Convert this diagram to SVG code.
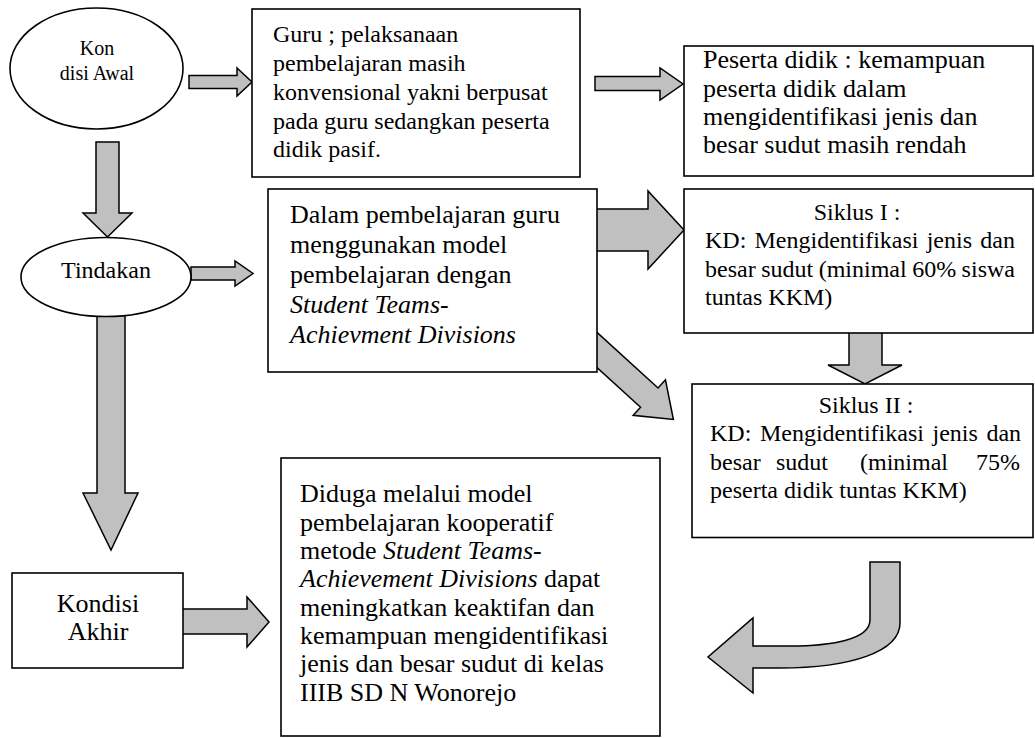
<svg xmlns="http://www.w3.org/2000/svg" width="1035" height="738" viewBox="0 0 1035 738">
<style>
.box{fill:#fff;stroke:#000;stroke-width:1.6}
.arr{fill:#c0c0c0;stroke:#000;stroke-width:1.5;stroke-linejoin:miter}
text{font-family:'Liberation Serif','Times New Roman',Times,serif;fill:#000}
.f20{font-size:20px}
.f24{font-size:24px}
.f26{font-size:26px}
.i{font-style:italic}
.m{text-anchor:middle}
</style>
<rect width="1035" height="738" fill="#fff"/>
<g id="connectors">
  <polygon class="arr" points="189,75.5 237,75.5 237,68 252,82 237,96 237,88.5 189,88.5"/>
  <polygon class="arr" points="595,76.5 660,76.5 660,68 683,84 660,100 660,90.5 595,90.5"/>
  <polygon class="arr" points="96,142 119,142 119,213 132,213 107.5,237 83,213 96,213"/>
  <polygon class="arr" points="191,267 235,267 235,261 253,273.5 235,286 235,280 191,280"/>
  <polygon class="arr" points="590,209 648,209 648,191 684,230 648,269 648,251 590,251"/>
  <polygon class="arr" points="849,325 882,325 882,365 902,365 865,384 828,365 849,365"/>
  <polygon class="arr" transform="translate(597,350) rotate(42.3)" points="-20,-13 70.7,-13 70.7,-24 103.3,0 70.7,24 70.7,13 -20,13"/>
  <polygon class="arr" points="97,305 125,305 125,493 138,493 111,550 83,493 97,493"/>
  <polygon class="arr" points="180,609 247,609 247,597 269,622 247,647 247,634 180,634"/>
  <path class="arr" d="M870,562 L900,562 L900,623 C900,652 850,668 780,668 L753,668 L753,693 L708,657 L753,618 L753,646 L790,646 C830,646 870,640 870,620 Z"/>
</g>
<g id="kondisi-awal">
  <ellipse class="box" cx="96.5" cy="68.5" rx="86.5" ry="60.5"/>
  <text class="f20 m" x="97" y="55">Kon</text>
  <text class="f20 m" x="97" y="80">disi Awal</text>
</g>
<g id="guru">
  <rect class="box" x="252" y="9" width="328" height="168"/>
  <text class="f24" x="273" y="42">Guru ; pelaksanaan</text>
  <text class="f24" x="273" y="71">pembelajaran masih</text>
  <text class="f24" x="273" y="100">konvensional yakni berpusat</text>
  <text class="f24" x="273" y="128.5">pada guru sedangkan peserta</text>
  <text class="f24" x="273" y="157">didik pasif.</text>
</g>
<g id="peserta">
  <rect class="box" x="684" y="46" width="349" height="130"/>
  <text class="f26" x="703" y="68">Peserta didik : kemampuan</text>
  <text class="f26" x="703" y="96.5">peserta didik dalam</text>
  <text class="f26" x="703" y="124.5">mengidentifikasi jenis dan</text>
  <text class="f26" x="703" y="153">besar sudut masih rendah</text>
</g>
<g id="tindakan">
  <ellipse class="box" cx="106" cy="277" rx="85" ry="39.5"/>
  <text class="f24 m" x="106" y="278">Tindakan</text>
</g>
<g id="dalam">
  <rect class="box" x="268" y="189" width="329" height="183"/>
  <text class="f26" x="290" y="223">Dalam pembelajaran guru</text>
  <text class="f26" x="290" y="253">menggunakan model</text>
  <text class="f26" x="290" y="283">pembelajaran dengan</text>
  <text class="f26 i" x="290" y="313">Student Teams-</text>
  <text class="f26 i" x="290" y="343">Achievment Divisions</text>
</g>
<g id="siklus1">
  <rect class="box" x="684" y="189" width="349" height="144"/>
  <text class="f24 m" x="857" y="220">Siklus I :</text>
  <text class="f24" x="705" y="248" word-spacing="2.2">KD: Mengidentifikasi jenis dan</text>
  <text class="f24" x="705" y="277" word-spacing="-0.5">besar sudut (minimal 60% siswa</text>
  <text class="f24" x="705" y="305">tuntas KKM)</text>
</g>
<g id="siklus2">
  <rect class="box" x="692" y="384" width="341" height="153.5"/>
  <text class="f24 m" x="866" y="413">Siklus II :</text>
  <text class="f24" x="710" y="441" word-spacing="2.6">KD: Mengidentifikasi jenis dan</text>
  <text class="f24" y="469.5"><tspan x="710">besar</tspan><tspan x="776">sudut</tspan><tspan x="860">(minimal</tspan><tspan x="976">75%</tspan></text>
  <text class="f24" x="710" y="498">peserta didik tuntas KKM)</text>
</g>
<g id="kondisi-akhir">
  <rect class="box" x="12" y="573" width="171" height="95"/>
  <text class="f26 m" x="98" y="612">Kondisi</text>
  <text class="f26 m" x="98" y="640">Akhir</text>
</g>
<g id="diduga">
  <rect class="box" x="281" y="458" width="379" height="278"/>
  <text class="f26" x="300" y="502">Diduga melalui model</text>
  <text class="f26" x="300" y="530.5">pembelajaran kooperatif</text>
  <text class="f26" x="300" y="559">metode <tspan class="i">Student Teams-</tspan></text>
  <text class="f26" x="300" y="587"><tspan class="i">Achievement Divisions</tspan> dapat</text>
  <text class="f26" x="300" y="615.5">meningkatkan keaktifan dan</text>
  <text class="f26" x="300" y="644">kemampuan mengidentifikasi</text>
  <text class="f26" x="300" y="672">jenis dan besar sudut di kelas</text>
  <text class="f26" x="300" y="700.5">IIIB SD N Wonorejo</text>
</g>
</svg>
